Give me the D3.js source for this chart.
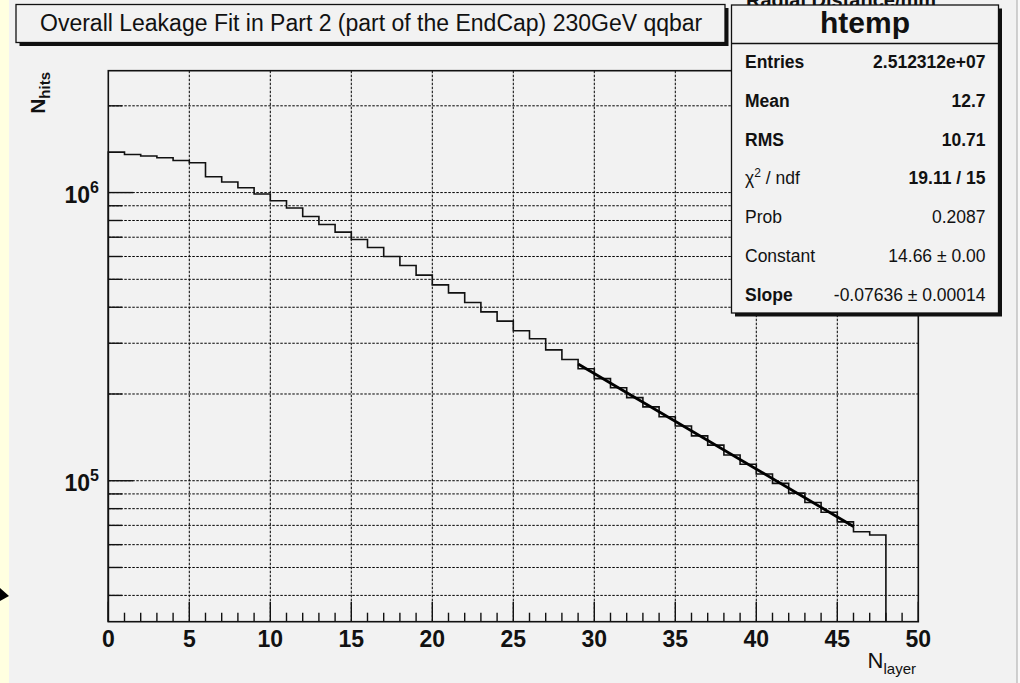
<!DOCTYPE html>
<html><head><meta charset="utf-8">
<script src="https://cdn.jsdelivr.net/npm/d3@7"></script>
<style>
html,body{margin:0;padding:0;background:#f2f2f2;}
svg{display:block;font-family:"Liberation Sans",Arial,Helvetica,sans-serif;}
</style></head>
<body>
<svg id="c" width="1020" height="683"></svg>
<script>
// ---------- data ----------
const binEdges = [0,1,2,3,4,5,6,7,8,9,10,11,12,13,14,15,16,17,18,19,20,21,22,23,24,25,26,27,28,29,30,31,32,33,34,35,36,37,38,39,40,41,42,43,44,45,46,47,48];
const binValues = [1382000,1356000,1339000,1321000,1292000,1269000,1135000,1088000,1039000,988100,
  936600,883500,826000,775000,729300,687300,644700,600000,558200,517100,
  478400,448700,415400,385600,358000,331300,310800,284600,263400,244800,
  226100,210300,194200,180500,166700,154900,143100,132900,122800,114100,
  105500,97900,90600,84000,77700,72000,66500,64800];
const xTicks = [0,5,10,15,20,25,30,35,40,45,50];
const yDecades = [5,6];
const yGrid = [40000,50000,60000,70000,80000,90000,100000,200000,300000,400000,500000,600000,700000,800000,900000,1000000,2000000];
const fitConstant = 14.66, fitSlope = -0.07636;
const fitRange = [29, 46];
const statLabels = ["Entries","Mean","RMS","χ2 / ndf","Prob","Constant","Slope"];
const statValues = ["2.512312e+07","12.7","10.71","19.11 / 15","0.2087","14.66 ± 0.00","-0.07636 ± 0.00014"];
const titleText = "Overall Leakage Fit in Part 2 (part of the EndCap) 230GeV qqbar";
const statsName = "htemp";
const hiddenTitle = "Radial Distance/mm";

// ---------- layout ----------
const svg = d3.select("#c");
const L = 108.3, R = 918.3, T = 70.7, B = 621.7;
const x = d3.scaleLinear().domain([0,50]).range([L,R]);
const y = d3.scaleLog().domain([32420, 2648000]).range([B,T]);
const ink = "#111";

// backgrounds
svg.append("rect").attr("x",0).attr("y",0).attr("width",1020).attr("height",683).attr("fill","#f2f2f2");
svg.append("rect").attr("x",0).attr("y",0).attr("width",9).attr("height",683).attr("fill","#ffffe0");
svg.append("rect").attr("x",1017).attr("y",0).attr("width",3).attr("height",683).attr("fill","#f9f9f9");
svg.append("line").attr("x1",1017).attr("x2",1017).attr("y1",0).attr("y2",683).attr("stroke","#b4b4b4").attr("stroke-width",1.2);
// arrow at left edge
svg.append("path").attr("d","M0,588 L9,596 L0,601 Z").attr("fill","#000");

// partially hidden text at top
svg.append("text").attr("x",746).attr("y",7).attr("font-size",20).attr("font-weight","bold").attr("fill",ink).text(hiddenTitle);

// grid
const g = svg.append("g");
g.selectAll("line.vg").data(xTicks.filter(d=>d>0&&d<50)).enter().append("line")
  .attr("x1",d=>x(d)).attr("x2",d=>x(d)).attr("y1",T).attr("y2",B)
  .attr("stroke","#000").attr("stroke-width",1).attr("stroke-dasharray","2.5,1.5");
g.selectAll("line.hg").data(yGrid).enter().append("line")
  .attr("x1",L).attr("x2",R).attr("y1",d=>y(d)).attr("y2",d=>y(d))
  .attr("stroke","#000").attr("stroke-width",1).attr("stroke-dasharray","2.5,1.5");

// histogram step outline
let d = `M${x(binEdges[0])},${B}`;
binValues.forEach((v,i)=>{ d += `V${y(v)}H${x(binEdges[i+1])}`; });
d += `V${B}`;
svg.append("path").attr("d",d).attr("fill","none").attr("stroke","#111").attr("stroke-width",1.6);

// fit line (exponential = straight line on log axis)
const fitPts = fitRange.map(t=>[x(t), y(Math.exp(fitConstant + fitSlope*t))]);
svg.append("path").attr("d",d3.line()(fitPts)).attr("fill","none").attr("stroke","#000").attr("stroke-width",2.8);

// frame
svg.append("rect").attr("x",L).attr("y",T).attr("width",R-L).attr("height",B-T)
  .attr("fill","none").attr("stroke",ink).attr("stroke-width",1.6);

// x axis ticks
const xMinor = d3.range(0,51,1);
svg.selectAll("line.xt").data(xMinor).enter().append("line")
  .attr("x1",d=>x(d)).attr("x2",d=>x(d)).attr("y1",B).attr("y2",d=>B-(d%5===0?20:9))
  .attr("stroke",ink).attr("stroke-width",1.4);
svg.selectAll("text.xl").data(xTicks).enter().append("text")
  .attr("x",d=>x(d)).attr("y",647).attr("text-anchor","middle")
  .attr("font-size",23).attr("font-weight","bold").attr("fill",ink).text(d=>d);

// y axis ticks
svg.selectAll("line.yt").data(yGrid).enter().append("line")
  .attr("x1",L).attr("x2",d=>L+(yDecades.some(k=>Math.abs(Math.log10(d)-k)<1e-9)?25:14))
  .attr("y1",d=>y(d)).attr("y2",d=>y(d)).attr("stroke",ink).attr("stroke-width",1.4);
const yl = svg.selectAll("text.yl").data(yDecades).enter().append("text")
  .attr("x",99).attr("y",k=>y(Math.pow(10,k))+10.5).attr("text-anchor","end")
  .attr("font-weight","bold").attr("fill",ink).attr("font-size",23);
yl.append("tspan").text("10");
yl.append("tspan").attr("font-size",16).attr("dy",-10).text(k=>k);

// axis titles
const yt = svg.append("text").attr("transform","translate(45,72) rotate(-90)")
  .attr("text-anchor","end").attr("font-weight","bold").attr("font-size",21).attr("fill",ink);
yt.append("tspan").text("N");
yt.append("tspan").attr("font-size",15).attr("dy",5).text("hits");
const xt = svg.append("text").attr("x",916).attr("y",668).attr("text-anchor","end")
  .attr("font-size",22).attr("fill",ink);
xt.append("tspan").text("N");
xt.append("tspan").attr("font-size",15).attr("dy",6).text("layer");

// boxes with drop shadow
function box(x0,y0,x1,y1){
  svg.append("rect").attr("x",x0+3.5).attr("y",y0+3.5).attr("width",x1-x0).attr("height",y1-y0).attr("fill","#111");
  svg.append("rect").attr("x",x0).attr("y",y0).attr("width",x1-x0).attr("height",y1-y0)
    .attr("fill","#f2f2f2").attr("stroke",ink).attr("stroke-width",1.3);
}
box(16,4.5,725,42.5);
svg.append("text").attr("x",40).attr("y",31).attr("font-size",23).attr("fill",ink).text(titleText);

// stats box
box(731.5,5,998.5,313);
svg.append("line").attr("x1",731.5).attr("x2",998.5).attr("y1",43.5).attr("y2",43.5).attr("stroke",ink).attr("stroke-width",1.3);
svg.append("text").attr("x",865).attr("y",33).attr("text-anchor","middle").attr("font-size",30).attr("font-weight","bold").attr("fill",ink).text(statsName);
const boldRows = new Set(["Entries","Mean","RMS","Slope"]);
statLabels.forEach((lab,i)=>{
  const yy = 68 + i*38.8;
  const t = svg.append("text").attr("x",745).attr("y",yy).attr("font-size",17.5)
    .attr("font-weight",boldRows.has(lab)?"bold":"normal").attr("fill",ink);
  if (lab.startsWith("χ2")) {
    t.append("tspan").text("χ");
    t.append("tspan").attr("font-size",12).attr("dy",-7).text("2");
    t.append("tspan").attr("dy",7).text(" / ndf");
  } else t.text(lab);
  svg.append("text").attr("x",985.5).attr("y",yy).attr("text-anchor","end").attr("font-size",17.5)
    .attr("font-weight",i<=3?"bold":"normal").attr("fill",ink).text(statValues[i]);
});
</script>
</body></html>
